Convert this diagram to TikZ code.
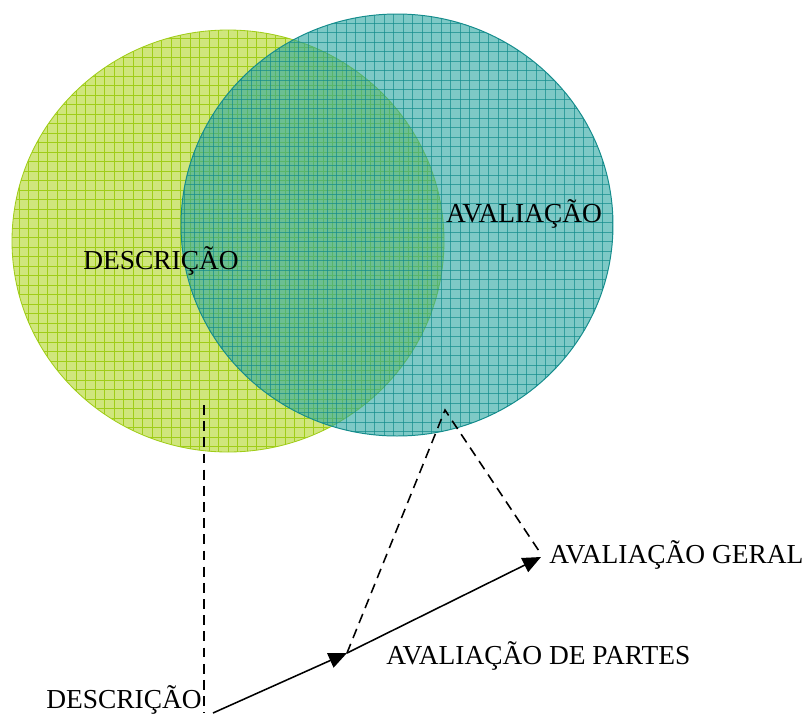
\documentclass[tikz,border=0pt]{standalone}
\usepackage{fontspec}
\setmainfont{Liberation Serif}
\usetikzlibrary{positioning, arrows.meta}

\definecolor{descfill}{RGB}{208,230,125}
\definecolor{descgrid}{RGB}{160,205,25}
\definecolor{avalfill}{RGB}{40,165,160}
\definecolor{avalgrid}{RGB}{20,140,140}

\tikzset{
  rotulo/.style={font=\fontsize{19.5}{21}\selectfont, inner sep=0pt},
  ligacao/.style={dashed, dash pattern=on 7pt off 4.5pt, line width=1.1pt},
  seta/.style={line width=1.1pt, -{Triangle[length=13pt, width=11pt]}}
}

\begin{document}
\begin{tikzpicture}[x=0.025cm, y=-0.025cm]
			\useasboundingbox (0,0) rectangle (805,713);
			
			% circulo descricao
			\fill[descfill] (228,241) ellipse (216 and 211);
			\begin{scope}
			\clip (228,241) ellipse (216 and 211);
			\foreach \g in {0,9.5,...,800} {
				\draw[descgrid, line width=0.6pt] (\g,0) -- (\g,713);
				\draw[descgrid, line width=0.6pt] (0,\g) -- (805,\g);
			}
			\end{scope}
			\draw[descgrid, line width=0.6pt] (228,241) ellipse (216 and 211);
			
			% circulo avaliacao
			\fill[avalfill, opacity=0.6] (397,225) ellipse (216 and 211);
			\begin{scope}
			\clip (397,225) ellipse (216 and 211);
			\foreach \g in {4,13.5,...,800} {
				\draw[avalgrid, line width=0.6pt, opacity=0.7] (\g,0) -- (\g,713);
				\draw[avalgrid, line width=0.6pt, opacity=0.7] (0,\g) -- (805,\g);
			}
			\end{scope}
			\draw[avalgrid, line width=0.7pt] (397,225) ellipse (216 and 211);
			
			\node[rotulo] (descA) at (161,261) {DESCRIÇÃO};
			\node[rotulo] (avalA) at (524,214) {AVALIAÇÃO};
			
			\node[rotulo, anchor=west] (geral) at (549,555) {AVALIAÇÃO GERAL};
			\node[rotulo, anchor=west] (partes) at (386,656) {AVALIAÇÃO DE PARTES};
			\node[rotulo, anchor=east] (descB) at (202,700) {DESCRIÇÃO};
			
			\coordinate (topoD) at (204,405);
			\coordinate (baseD) at (204,713);
			\coordinate (inicio) at (213,713);
			\coordinate (meio) at (347,653);
			\coordinate (fim) at (541,557);
			\coordinate (pico) at (445,410);
			\coordinate (fimG) at (541,554);
			
			\draw[ligacao] (topoD) -- (baseD);
			\draw[ligacao] (meio) -- (pico) -- (fimG);
			\draw[seta] (inicio) -- (meio);
			\draw[seta] (meio) -- (fim);
			\end{tikzpicture}
\end{document}
